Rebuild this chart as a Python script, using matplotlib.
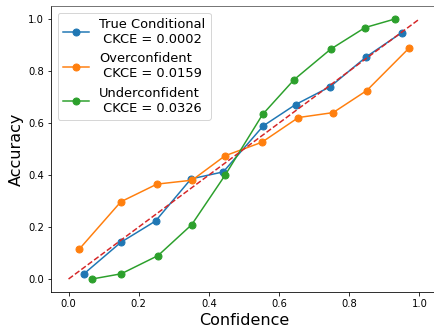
import matplotlib
matplotlib.use("Agg")
import matplotlib.pyplot as plt

true_x = [0.044, 0.149, 0.248, 0.349, 0.441, 0.555, 0.647, 0.746, 0.849, 0.950]
true_y = [0.020, 0.141, 0.223, 0.385, 0.412, 0.589, 0.671, 0.740, 0.855, 0.948]

over_x = [0.030, 0.149, 0.252, 0.352, 0.446, 0.551, 0.655, 0.754, 0.850, 0.971]
over_y = [0.114, 0.297, 0.365, 0.380, 0.474, 0.526, 0.621, 0.640, 0.725, 0.889]

under_x = [0.067, 0.150, 0.255, 0.351, 0.447, 0.553, 0.643, 0.747, 0.845, 0.930]
under_y = [0.000, 0.020, 0.090, 0.209, 0.401, 0.633, 0.767, 0.884, 0.967, 1.000]

labels = ["True Conditional\n CKCE = 0.0002",
          "Overconfident\n CKCE = 0.0159",
          "Underconfident\n CKCE = 0.0326"]
diag = [0.0, 1.0]

fig = plt.figure(figsize=(434/72, 331/72), dpi=72)
ax = fig.add_axes([51/434, 39/331, 386/434, 286/331])

ax.plot(true_x, true_y, marker='o', markersize=7, lw=1.5, color='tab:blue', label=labels[0])
ax.plot(over_x, over_y, marker='o', markersize=7, lw=1.5, color='tab:orange', label=labels[1])
ax.plot(under_x, under_y, marker='o', markersize=7, lw=1.5, color='tab:green', label=labels[2])
ax.plot(diag, diag, '--', color='tab:red', lw=1.5)

ax.set_xlim(-0.05, 1.05)
ax.set_ylim(-0.05, 1.05)
ax.set_xticks([0.0, 0.2, 0.4, 0.6, 0.8, 1.0])
ax.set_yticks([0.0, 0.2, 0.4, 0.6, 0.8, 1.0])
ax.tick_params(labelsize=10)
ax.spines['top'].set_color('#555555')
ax.set_xlabel("Confidence", fontsize=16)
ax.set_ylabel("Accuracy", fontsize=16)
ax.legend(loc='upper left', fontsize=13)

fig.savefig("out.png", dpi=72)
